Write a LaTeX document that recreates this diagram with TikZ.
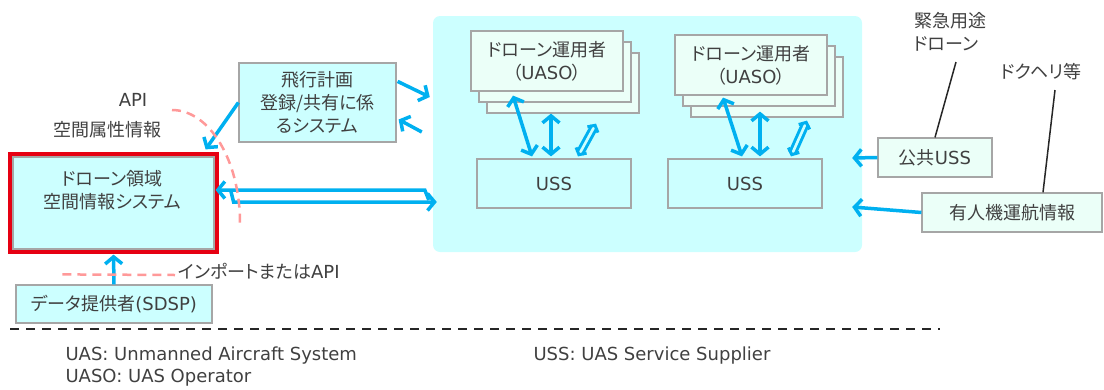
\documentclass[tikz,border=0pt]{standalone}
\usepackage{fontspec}
\setmainfont{Noto Sans CJK JP}[RawFeature=+palt]
\newfontfamily\latfont{DejaVu Sans}
\usepackage{xcolor}
\usepackage{tikz}
\usetikzlibrary{arrows.meta,positioning,calc}

\definecolor{zonecyan}{HTML}{CCFFFF}
\definecolor{mint}{HTML}{EBFFF8}
\definecolor{boxgray}{HTML}{A6A6A6}
\definecolor{flowblue}{HTML}{00B0F0}
\definecolor{apipink}{HTML}{FF9999}
\definecolor{framered}{HTML}{E60012}
\definecolor{txtgray}{HTML}{404040}

\begin{document}
\begin{tikzpicture}[
  x=1pt, y=-1pt,
  font=\fontsize{18}{23}\selectfont, text=txtgray,
  box/.style={draw=boxgray, line width=1.2pt, fill=zonecyan, align=center,
              inner sep=0pt},
  mintbox/.style={box, fill=mint},
  flow/.style={draw=flowblue, line width=3.5pt,
               -{Straight Barb[length=7pt, width=17pt]}},
  twoway/.style={flow, {Straight Barb[length=7pt, width=17pt]}-{Straight Barb[length=7pt, width=17pt]}},
  hollow/.style={draw=flowblue, line width=3pt, double=zonecyan,
                 double distance=2.6pt,
                 {Straight Barb[length=5pt, width=12pt]}-{Straight Barb[length=5pt, width=12pt]}},
  api/.style={draw=apipink, line width=2.5pt, dash pattern=on 9pt off 6pt},
  callout/.style={draw=black!85, line width=1.5pt},
  legend/.style={anchor=west, font=\fontsize{18}{22}\selectfont\latfont},
]
  \useasboundingbox (0,0) rectangle (1104,389);

  % USS area
  \node[fill=zonecyan, rounded corners=7pt, minimum width=429pt,
        minimum height=236pt, inner sep=0pt] (usszone) at (647.5,134) {};

  % operator stacks
  \foreach \name/\cx/\cy in {uasoA/547/61, uasoB/751/65} {
    \node[mintbox, minimum width=152pt, minimum height=60pt]
      (\name3) at (\cx+16,\cy+22) {};
    \node[mintbox, minimum width=152pt, minimum height=60pt]
      (\name2) at (\cx+8,\cy+11) {};
    \node[mintbox, minimum width=152pt, minimum height=60pt]
      (\name) at (\cx,\cy) {ドローン運用者\\（{\latfont UASO}）};
  }
  \node[box, minimum width=154pt, minimum height=49pt] (ussA) at (554,183.5)
    {\latfont USS};
  \node[box, minimum width=154pt, minimum height=49pt] (ussB) at (745,183.5)
    {\latfont USS};

  \draw[twoway] ($(uasoA.south)+(-34,4)$) -- ($(ussA.north)+(-22,-2)$);
  \draw[twoway] ($(uasoA3.south)+(-12,0)$) -- ($(ussA.north)+(-3,-2)$);
  \draw[hollow] ($(ussA.north)+(24,-2)$) -- ($(uasoA3.south)+(33,10)$);
  \draw[twoway] ($(uasoB.south)+(-28,2)$) -- ($(ussB.north)+(-3,-2)$);
  \draw[twoway] ($(uasoB3.south)+(-7,-6)$) -- ($(ussB.north)+(15,-2)$);
  \draw[hollow] ($(ussB.north)+(46,-2)$) -- ($(uasoB3.south)+(40,3)$);

  % left side systems
  \node[box, minimum width=157pt, minimum height=79pt] (flightplan)
    at (317.5,102.5) {飛行計画\\登録/共有に係\\るシステム};
  \node[box, minimum width=201pt, minimum height=92pt] (airspace)
    at (113.5,203) {};
  \node[align=center] (airspacetext) at (112,190)
    {ドローン領域\\空間情報システム};
  \draw[framered, line width=4pt]
    ($(airspace.north west)+(-2.5,-2.5)$) rectangle
    ($(airspace.south east)+(2.5,2.5)$);
  \node[box, minimum width=196pt, minimum height=38pt] (provider)
    at (114,304) {データ提供者{\latfont (SDSP)}};

  \node (apilabel) at (133,100) {\latfont API};
  \node (attrlabel) at (107,130) {空間属性情報};
  \node[anchor=west] (importlabel) at (175,271) {インポートまたは{\latfont API}};

  % right side sources
  \node[mintbox, minimum width=114pt, minimum height=39pt] (publicuss)
    at (935,157.5) {公共{\latfont USS}};
  \node[mintbox, minimum width=180pt, minimum height=39pt] (manned)
    at (1012,212.5) {有人機運航情報};
  \node[align=left] (emergency) at (950,32) {緊急用途\\ドローン};
  \node (doctorheli) at (1041,72) {ドクヘリ等};
  \coordinate (emgend) at (956,62);
  \coordinate (heliend) at (1055,90);
  \draw[callout] (publicuss.north) -- (emgend);
  \draw[callout] ($(manned.north)+(31,0)$) -- (heliend);

  % flows
  \draw[flow] (flightplan.west) -- ($(airspace.north east)+(-9,-7)$);
  \draw[flow] ($(flightplan.north east)+(1,19)$) -- ($(usszone.west)+(-3,-37)$);
  \draw[flow] ($(usszone.west)+(-11,-2)$) -- ($(flightplan.east)+(2,17)$);
  \draw[flow] ($(usszone.west)+(-4,66)$) -- ($(usszone.west)+(-8,56)$)
    -- ($(airspace.east)+(1,-13)$);
  \draw[flow] ($(airspace.east)+(16,-13)$) -- ($(airspace.east)+(19,-1)$)
    -- ($(usszone.west)+(4,68)$);
  \draw[flow] (provider.north) -- ($(airspace.south)+(0,5)$);
  \draw[flow] (publicuss.west) -- ($(usszone.east)+(-10,24)$);
  \draw[flow] (manned.west) -- ($(usszone.east)+(-10,73)$);

  % API boundaries
  \draw[api] ($(provider.north west)+(47,-10)$) -- ($(importlabel.west)+(0,4)$);
  \draw[api] (172,110) arc[start angle=-90, end angle=0,
    x radius=68, y radius=113];

  % legend
  \draw[black!85, line width=2pt, dash pattern=on 9pt off 7pt]
    (10,329) -- (940,329);
  \node[legend] (legenduas) at (62,356) {UAS: Unmanned Aircraft System};
  \node[legend] (legenduss) at (530,356) {USS: UAS Service Supplier};
  \node[legend] (legenduaso) at (62,378) {UASO: UAS Operator};
\end{tikzpicture}
\end{document}
